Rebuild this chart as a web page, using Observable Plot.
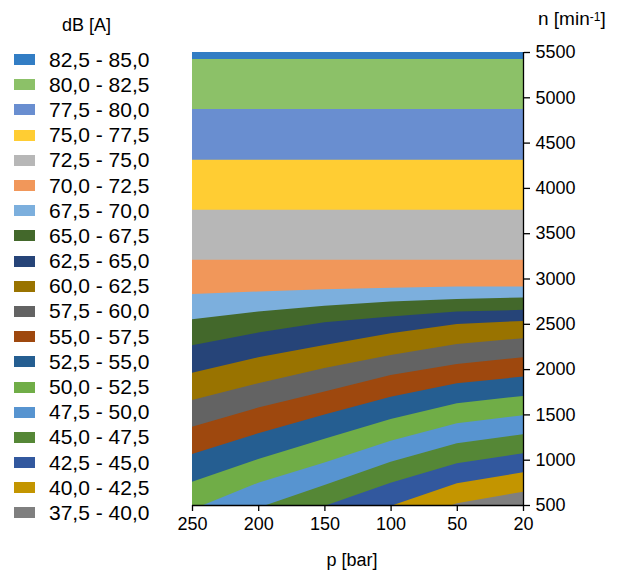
<!DOCTYPE html>
<html><head><meta charset="utf-8">
<script src="https://cdn.jsdelivr.net/npm/d3@7"></script>
<script src="https://cdn.jsdelivr.net/npm/@observablehq/plot@0.6"></script>
<style>
html,body{margin:0;padding:0;background:#fff;}
#wrap{position:relative;width:619px;height:573px;font-family:"Liberation Sans",Arial,sans-serif;color:#000;}
#wrap svg{position:absolute;left:0;top:0;}
.lbl{position:absolute;white-space:nowrap;font-size:18px;line-height:18px;}
#legend{position:absolute;left:14px;top:47px;}
.row{display:flex;align-items:center;height:25.2px;}
.sw{width:21px;height:11px;margin-right:14px;}
.row span{font-size:21px;}
sup{font-size:12px;vertical-align:top;position:relative;top:-2px;}
</style></head>
<body><div id="wrap"></div>
<script>
// x categories (pressure, bar)
const pressures = [250, 200, 150, 100, 50, 20];
// dB(A) isoline levels
const levels = [37.5, 40, 42.5, 45, 47.5, 50, 52.5, 55, 57.5, 60, 62.5, 65, 67.5, 70, 72.5, 75, 77.5, 80, 82.5, 85];
// speed n (min^-1) of each isoline level, per pressure column
const n250 = [-1050, -750, -450, -150, 150, 450, 757, 1063, 1365, 1660, 1961, 2264, 2551, 2830, 3206, 3758, 4310, 4871, 5423, 5500];
const n200 = [-590, -325, -60, 205, 470, 746, 1008, 1292, 1575, 1844, 2131, 2403, 2635, 2856, 3206, 3758, 4310, 4871, 5423, 5500];
const n150 = [-245, 0, 245, 490, 720, 970, 1232, 1498, 1754, 2013, 2267, 2518, 2698, 2882, 3206, 3758, 4310, 4871, 5423, 5500];
const n100 = [20, 260, 490, 746, 978, 1210, 1450, 1696, 1936, 2157, 2396, 2580, 2745, 2897, 3206, 3758, 4310, 4871, 5423, 5500];
const n50  = [300, 519, 740, 961, 1181, 1402, 1623, 1844, 2057, 2278, 2499, 2635, 2775, 2911, 3206, 3758, 4310, 4871, 5423, 5500];
const n20  = [430, 647, 861, 1071, 1281, 1491, 1704, 1917, 2131, 2341, 2532, 2654, 2790, 2911, 3206, 3758, 4310, 4871, 5423, 5500];
// band colours, from 37.5-40.0 up to 82.5-85.0
const bandColors = ["#7f7f7f", "#c39500", "#32589e", "#558736", "#5794d0", "#70ad47", "#255e91", "#9e480e", "#636363", "#997300",
                    "#264478", "#43682b", "#7cafdd", "#f1975a", "#b7b7b7", "#ffcd33", "#698ed0", "#8cc168", "#327dc4"];
const yTicks = [500, 1000, 1500, 2000, 2500, 3000, 3500, 4000, 4500, 5000, 5500];

const columns = [n250, n200, n150, n100, n50, n20];
const topIdx = levels.length - 1;
const fmt = v => v.toFixed(1).replace(".", ",");

const bandMarks = bandColors.map((c, i) =>
  Plot.areaY(pressures.map((p, j) => ({x: j, y1: columns[j][i], y2: columns[j][topIdx]})),
    {x: "x", y1: "y1", y2: "y2", fill: c, clip: true, curve: "linear"})
);

const chart = Plot.plot({
  width: 619, height: 573,
  marginLeft: 192, marginRight: 96, marginTop: 52, marginBottom: 68,
  style: {fontFamily: "'Liberation Sans', Arial, sans-serif", fontSize: "18px", color: "#000", background: "transparent"},
  x: {domain: [0, pressures.length - 1], axis: null},
  y: {domain: [yTicks[0], yTicks[yTicks.length - 1]], axis: null},
  marks: [
    ...bandMarks,
    Plot.ruleX([pressures.length - 1], {stroke: "#000", strokeWidth: 1.3}),
    Plot.ruleY([yTicks[0]], {stroke: "#000", strokeWidth: 1.3}),
    Plot.axisY(yTicks, {anchor: "right", tickSize: 6, tickPadding: 6, tickFormat: d => String(d), fontSize: 18, label: null, stroke: "#000", strokeWidth: 1.3}),
    Plot.axisX(d3.range(pressures.length), {anchor: "bottom", tickSize: 6, tickPadding: 6, tickFormat: i => String(pressures[i]), fontSize: 18, label: null, stroke: "#000", strokeWidth: 1.3})
  ]
});

const wrap = document.getElementById("wrap");
wrap.appendChild(chart);

const addLabel = (html, left, topPx, size) => {
  const d = document.createElement("div");
  d.className = "lbl"; d.innerHTML = html;
  d.style.left = left + "px"; d.style.top = topPx + "px";
  if (size) d.style.fontSize = size + "px";
  wrap.appendChild(d);
  return d;
};
addLabel("dB [A]", 62, 16);
addLabel("n [min<sup>-1</sup>]", 538, 10, 19);
const xl = addLabel("p [bar]", 0, 551);
xl.style.left = (352 - xl.offsetWidth / 2) + "px";

const legend = document.createElement("div");
legend.id = "legend";
for (let i = bandColors.length - 1; i >= 0; i--) {
  const row = document.createElement("div");
  row.className = "row";
  row.innerHTML = `<div class="sw" style="background:${bandColors[i]}"></div><span>${fmt(levels[i])} - ${fmt(levels[i + 1])}</span>`;
  legend.appendChild(row);
}
wrap.appendChild(legend);
</script>
</body></html>
